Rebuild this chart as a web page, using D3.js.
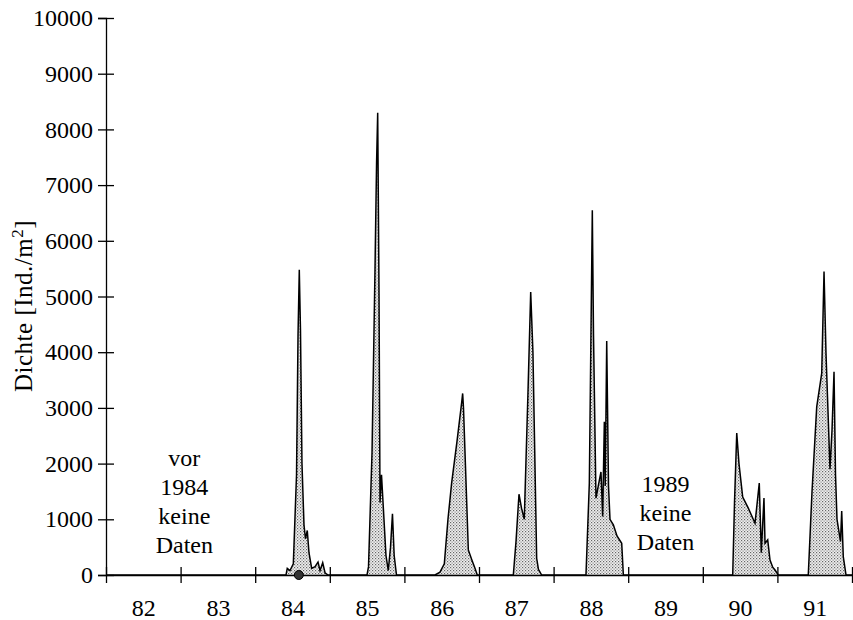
<!DOCTYPE html>
<html>
<head>
<meta charset="utf-8">
<script src="https://cdn.jsdelivr.net/npm/d3@7"></script>
<style>
  body { margin: 0; background: #fff; }
  svg { display: block; }
</style>
</head>
<body>
<script>
// year boundaries on the x axis and the year labels between them
var yearTicks = [82, 83, 84, 85, 86, 87, 88, 89, 90, 91, 92];
var yearLabels = ["82", "83", "84", "85", "86", "87", "88", "89", "90", "91"];
var densityTicks = [0, 1000, 2000, 3000, 4000, 5000, 6000, 7000, 8000, 9000, 10000];

// samples per season: [year (decimal), density Ind./m2]
var s1984 = [[82, 0], [84.413, 0], [84.430, 120], [84.466, 80], [84.511, 200], [84.554, 1800],
    [84.574, 4300], [84.591, 5480], [84.607, 4400], [84.627, 2000], [84.654, 900], [84.674, 650],
    [84.698, 800], [84.721, 400], [84.757, 120], [84.802, 150], [84.842, 230], [84.869, 80],
    [84.905, 220], [84.936, 40], [84.976, 0]];
var s1985 = [[85.499, 0], [85.519, 150], [85.566, 2200], [85.606, 5500], [85.627, 7400],
    [85.642, 8300], [85.660, 5000], [85.673, 1300], [85.693, 1800], [85.720, 1150], [85.753, 350],
    [85.784, 80], [85.814, 500], [85.840, 1100], [85.863, 350], [85.894, 0]];
var s1986 = [[86.410, 0], [86.477, 50], [86.535, 200], [86.584, 1000], [86.633, 1650],
    [86.705, 2400], [86.768, 3100], [86.781, 3260], [86.792, 3000], [86.857, 450], [86.902, 280],
    [86.946, 120], [86.977, 0]];
var s1987 = [[87.460, 0], [87.496, 600], [87.536, 1450], [87.570, 1200], [87.607, 1000],
    [87.657, 3300], [87.693, 5080], [87.723, 4000], [87.773, 300], [87.797, 100], [87.840, 0]];
var s1988 = [[88.434, 0], [88.479, 1650], [88.519, 6550], [88.535, 4300], [88.568, 1380],
    [88.613, 1700], [88.635, 1850], [88.658, 1050], [88.680, 2750], [88.692, 1600], [88.712, 4200],
    [88.736, 1600], [88.756, 1000], [88.801, 900], [88.850, 700], [88.913, 570], [88.935, 0]];
var s1990 = [[90.401, 0], [90.425, 1300], [90.455, 2550], [90.485, 2000], [90.535, 1400],
    [90.610, 1200], [90.700, 930], [90.757, 1650], [90.784, 400], [90.820, 1380], [90.834, 570],
    [90.870, 630], [90.901, 270], [90.937, 140], [90.968, 90], [91.012, 0]];
var s1991 = [[91.414, 0], [91.464, 1500], [91.527, 3020], [91.594, 3620], [91.625, 5450],
    [91.651, 4000], [91.705, 1900], [91.732, 2600], [91.759, 3650], [91.779, 1800], [91.799, 1000],
    [91.846, 600], [91.862, 1150], [91.883, 330], [91.920, 0], [92, 0]];

// single marked sample on the baseline
var markedSample = [84.585, 0];

var W = 853;
var H = 620;
var fontFamily = "'Liberation Serif', 'DejaVu Serif', serif";
var fontSize = "24px";

var svg = d3.select("body").append("svg")
    .attr("width", W)
    .attr("height", H);

var x = d3.scaleLinear().domain([82, 92]).range([106, 852]);
var y = d3.scaleLinear().domain([0, 10000]).range([575, 18]);

// stipple fill
var defs = svg.append("defs");
var pat = defs.append("pattern")
    .attr("id", "stipple")
    .attr("patternUnits", "userSpaceOnUse")
    .attr("width", 3)
    .attr("height", 3);
pat.append("rect").attr("width", 3).attr("height", 3).attr("fill", "#f0f0f0");
pat.append("rect").attr("x", 0).attr("y", 0).attr("width", 1.2).attr("height", 1.2).attr("fill", "#666");
pat.append("rect").attr("x", 1.5).attr("y", 1.5).attr("width", 1.2).attr("height", 1.2).attr("fill", "#888");

var series = [].concat(s1984, s1985, s1986, s1987, s1988, s1990, s1991);

var area = d3.area()
    .x(function (d) { return x(d[0]); })
    .y0(y(0))
    .y1(function (d) { return y(d[1]); });

var line = d3.line()
    .x(function (d) { return x(d[0]); })
    .y(function (d) { return y(d[1]); });

svg.append("path")
    .datum(series)
    .attr("d", area)
    .attr("fill", "url(#stipple)");

// x axis: year boundaries, ticks cross the line
var xAxis = svg.append("g")
    .attr("transform", "translate(0," + y(0) + ")")
    .call(d3.axisBottom(x).tickValues(yearTicks).tickFormat("").tickSizeOuter(0));
xAxis.selectAll(".tick line").attr("y1", -8).attr("y2", 8).attr("stroke-width", 1.3);
xAxis.select(".domain").attr("stroke-width", 1.3);

// year labels centred between boundaries
var labelAxis = svg.append("g")
    .attr("transform", "translate(0," + y(0) + ")")
    .call(d3.axisBottom(x)
        .tickValues(yearLabels.map(function (d) { return +d + 0.5; }))
        .tickFormat(function (d) { return String(Math.floor(d)); })
        .tickSize(0)
        .tickPadding(24));
labelAxis.select(".domain").remove();
labelAxis.selectAll("text")
    .attr("font-family", fontFamily)
    .attr("font-size", fontSize)
    .attr("fill", "#000");

// y axis
var yAxis = svg.append("g")
    .attr("transform", "translate(" + x(82) + ",0)")
    .call(d3.axisLeft(y).tickValues(densityTicks).tickFormat(d3.format("d"))
        .tickSizeOuter(0).tickSize(8).tickPadding(5));
yAxis.selectAll(".tick line").attr("x1", -8).attr("x2", 8).attr("stroke-width", 1.3);
yAxis.select(".domain").attr("stroke-width", 1.3);
yAxis.selectAll("text")
    .attr("font-family", fontFamily)
    .attr("font-size", fontSize)
    .attr("fill", "#000");

// outline of the density curve
svg.append("path")
    .datum(series)
    .attr("d", line)
    .attr("fill", "none")
    .attr("stroke", "#000")
    .attr("stroke-width", 1.5)
    .attr("stroke-linejoin", "miter");

svg.append("circle")
    .attr("cx", x(markedSample[0]))
    .attr("cy", y(markedSample[1]))
    .attr("r", 4.5)
    .attr("fill", "#333")
    .attr("stroke", "#000");

// axis title
var title = svg.append("text")
    .attr("transform", "translate(32,306) rotate(-90)")
    .attr("text-anchor", "middle")
    .attr("font-family", fontFamily)
    .attr("font-size", "25px")
    .attr("letter-spacing", 0.5)
    .attr("fill", "#000");
title.append("tspan").text("Dichte [Ind./m");
title.append("tspan").attr("dy", -9).attr("font-size", "17px").text("2");
title.append("tspan").attr("dy", 9).text("]");

// notes for missing data
var noteLeft = ["vor", "1984", "keine", "Daten"];
var noteRight = ["1989", "keine", "Daten"];

function drawNote(lines, cx, lastBaseline) {
    var g = svg.append("text")
        .attr("text-anchor", "middle")
        .attr("font-family", fontFamily)
        .attr("font-size", fontSize)
        .attr("fill", "#000");
    lines.forEach(function (t, i) {
        g.append("tspan")
            .attr("x", cx)
            .attr("y", lastBaseline - (lines.length - 1 - i) * 29)
            .text(t);
    });
}

drawNote(noteLeft, x(83.05), 553);
drawNote(noteRight, x(89.5), 550);
</script>
</body>
</html>
